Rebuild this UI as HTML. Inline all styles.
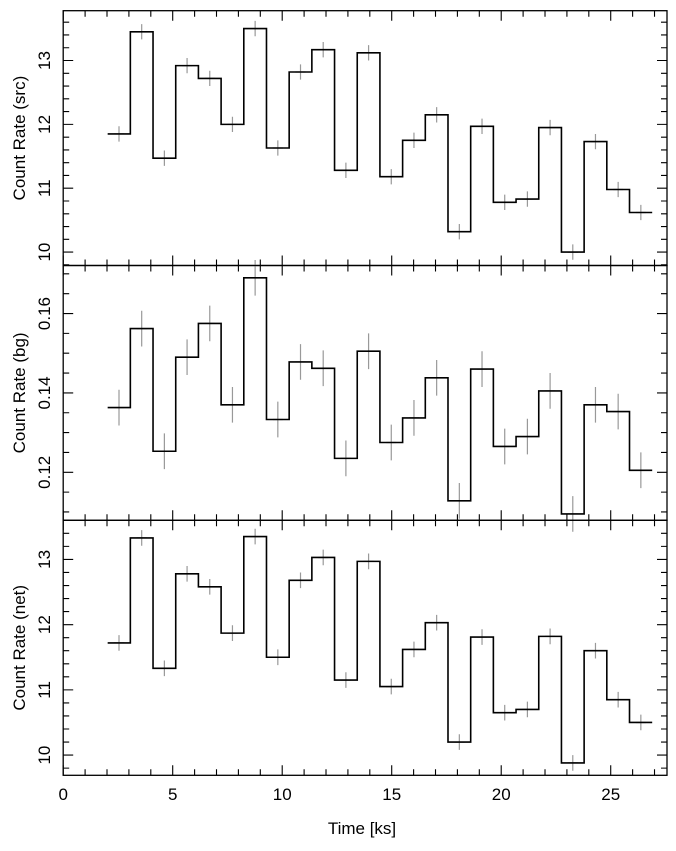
<!DOCTYPE html>
<html><head><meta charset="utf-8"><style>
body{margin:0;background:#fff}
svg text{font-family:"Liberation Sans",sans-serif;fill:#000}
</style></head><body>
<svg width="676" height="846" viewBox="0 0 676 846" xmlns="http://www.w3.org/2000/svg">
<g id="root"></g>
</svg>
<script>
const binStart = 2.03;
const binWidth = 1.036;
const srcValues = [11.85,13.45,11.47,12.92,12.72,12.0,13.5,11.63,12.82,13.17,11.28,13.12,11.18,11.75,12.15,10.32,11.97,10.78,10.83,11.95,10.0,11.73,10.98,10.62];
const bgValues = [0.1363,0.1562,0.1253,0.149,0.1575,0.137,0.169,0.1333,0.1478,0.1462,0.1235,0.1505,0.1275,0.1337,0.1438,0.1128,0.146,0.1265,0.129,0.1405,0.1095,0.137,0.1353,0.1205];
const netValues = [11.72,13.33,11.33,12.78,12.58,11.87,13.35,11.5,12.68,13.03,11.15,12.97,11.05,11.62,12.03,10.2,11.81,10.65,10.7,11.82,9.88,11.6,10.85,10.5];
const srcErr = 0.12, bgErr = 0.0045, netErr = 0.12;
const xTicks = [0,5,10,15,20,25];
const srcTicks = [10,11,12,13];
const bgTicks = [0.12,0.14,0.16];
const netTicks = [10,11,12,13];

const NS="http://www.w3.org/2000/svg";
const root=document.getElementById('root');
const X0=63.2,X1=667,XMIN=0,XMAX=27.57;
const sx=v=>X0+(v-XMIN)/(XMAX-XMIN)*(X1-X0);
function mk(tag,attrs,parent){const e=document.createElementNS(NS,tag);for(const k in attrs)e.setAttribute(k,attrs[k]);(parent||root).appendChild(e);return e;}

const panels=[
 {name:'src',label:'Count Rate (src)',top:10.7,bot:265.5,ymin:9.79,ymax:13.78,vals:srcValues,err:srcErr,ticks:srcTicks,minor:0.2,fmt:v=>String(v)},
 {name:'bg',label:'Count Rate (bg)',top:265.5,bot:520.3,ymin:0.1079,ymax:0.1721,vals:bgValues,err:bgErr,ticks:bgTicks,minor:0.005,fmt:v=>v.toFixed(2)},
 {name:'net',label:'Count Rate (net)',top:520.3,bot:775.3,ymin:9.69,ymax:13.6,vals:netValues,err:netErr,ticks:netTicks,minor:0.2,fmt:v=>String(v)}
];
panels.forEach((p,pi)=>{
 const g=mk('g',{});
 
 
 const sy=v=>p.bot-(v-p.ymin)/(p.ymax-p.ymin)*(p.bot-p.top);
 let d='';
 p.vals.forEach((v,i)=>{const a=sx(binStart+i*binWidth),b=sx(binStart+(i+1)*binWidth),y=sy(v);d+=(i===0?'M':'L')+a+','+y+'L'+b+','+y;});
 const errs=mk('g',{},g);
 
 
 p.vals.forEach((v,i)=>{const c=binStart+(i+0.5)*binWidth;const cx=sx(c),y=sy(v);
  const e=mk('path',{d:`M${cx},${sy(v-p.err)}L${cx},${sy(v+p.err)}M${sx(c-0.23)},${y}L${sx(c+0.23)},${y}`,stroke:'#999','stroke-width':1.2,fill:'none'},errs);
  
  
 });
 const line=mk('path',{d:d,stroke:'#000','stroke-width':1.6,fill:'none'},g);
 
 
 const fr=mk('rect',{x:X0,y:p.top,width:X1-X0,height:p.bot-p.top,fill:'none',stroke:'#000','stroke-width':1.3},g);
 
 
 let td='';
 for(let t=0;t<=27;t++){const x=sx(t),L=(t%5===0)?10:6;td+=`M${x},${p.bot}L${x},${p.bot-L}M${x},${p.top}L${x},${p.top+L}`;}
 const start=Math.ceil(p.ymin/p.minor-1e-6);
 for(let k=start;k*p.minor<=p.ymax+1e-9;k++){const v=k*p.minor;const y=sy(v);const major=p.ticks.some(t=>Math.abs(t-v)<1e-6);const L=major?10:6;td+=`M${X0},${y}L${X0+L},${y}M${X1},${y}L${X1-L},${y}`;}
 const tk=mk('path',{d:td,stroke:'#000','stroke-width':1.1,fill:'none'},g);
 
 
 p.ticks.forEach(t=>{const y=sy(t);const tx=mk('text',{x:0,y:0,transform:`translate(50,${y}) rotate(-90)`,'text-anchor':'middle','font-size':17},g);tx.textContent=p.fmt(t);
  
  });
 const yl=mk('text',{x:0,y:0,transform:`translate(25,${(p.top+p.bot)/2}) rotate(-90)`,'text-anchor':'middle','font-size':17},g);
 yl.textContent=p.label;
 
 
 if(pi===2){
  xTicks.forEach(t=>{const tx=mk('text',{x:sx(t),y:800,'text-anchor':'middle','font-size':17},g);tx.textContent=String(t);
   
   });
 }
});
const xt=mk('text',{x:362,y:834,'text-anchor':'middle','font-size':17});
xt.textContent='Time [ks]';


</script>
</body></html>
